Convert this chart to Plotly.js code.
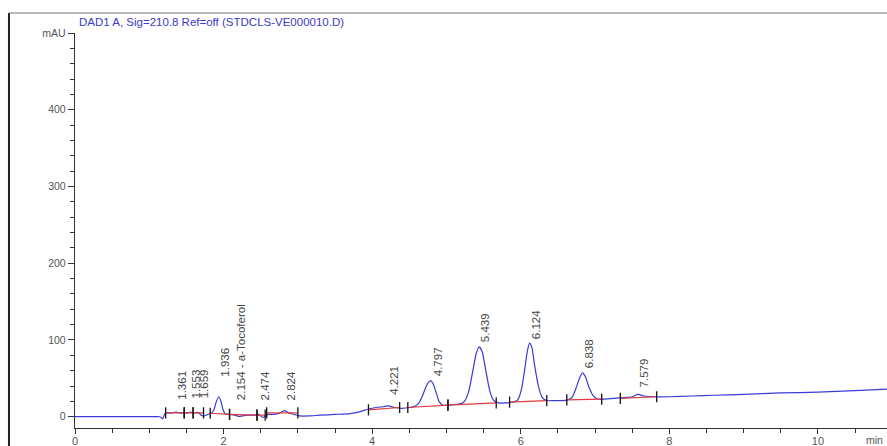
<!DOCTYPE html>
<html>
<head>
<meta charset="utf-8">
<script src="https://cdn.plot.ly/plotly-3.0.1.min.js"></script>
<style>html,body{margin:0;padding:0;background:#fff;}#chart{width:887px;height:446px;}</style>
</head>
<body>
<div id="chart"></div>
<script>
// ---- data (time in min, signal in mAU) ----
const times = [0,0.3,0.6,0.9,1.1,1.13,1.16,1.18,1.20,1.22,1.26,1.31,1.36,1.41,1.47,1.52,1.555,1.60,1.66,1.70,1.74,1.79,1.84,1.87,1.90,1.935,1.965,1.99,2.02,2.08,2.15,2.20,2.25,2.32,2.40,2.47,2.53,2.60,2.68,2.76,2.82,2.88,2.95,3.02,3.15,3.3,3.5,3.7,3.85,3.95,4.05,4.15,4.22,4.30,4.40,4.50,4.58,4.63,4.68,4.72,4.76,4.79,4.82,4.86,4.90,4.95,5.02,5.12,5.20,5.25,5.30,5.35,5.40,5.44,5.48,5.53,5.58,5.63,5.70,5.80,5.90,5.96,6.01,6.06,6.09,6.12,6.15,6.19,6.24,6.29,6.35,6.45,6.55,6.63,6.69,6.74,6.79,6.83,6.87,6.92,6.97,7.03,7.10,7.25,7.40,7.50,7.58,7.66,7.80,8.0,8.3,8.6,9.0,9.5,10.0,10.5,10.93];
const signal = [0,0,0,0,0,0,-1,-3,2,5,5,5,6,5,5,5,6,5,5.5,2,1,3,5,9,19,26,20,10,4,3,2,0.5,1,2,2,3,-1,3,3,5,8,5,3,1,1,2,3,4,7,10,12,13,14,12,11,12,14,18,28,38,45,47,43,32,20,15,15,16,17,21,33,57,82,91,85,60,35,22,18,18,19,22,36,66,86,96,90,65,39,25,21,21,21,22,25,36,50,57,52,38,28,23,23,24,25,26,29,27,26,26,27,28,29,31,32,34,36];

// integrated peaks: retention time labels, apex signal, baseline start/end
const peakLabels = ["1.361","1.553","1.659","1.936","2.154 - a-Tocoferol","2.474","2.824","4.221","4.797","5.439","6.124","6.838","7.579"];
const peakTimes  = [1.361,1.553,1.659,1.936,2.154,2.474,2.824,4.221,4.797,5.439,6.124,6.838,7.579];
const peakApex   = [6,6,5.5,26,2,3,8,14,47,91,96,57,29];
const blStartT = [1.22,1.47,1.59,1.82,2.08,2.45,2.58,3.95,4.48,5.02,5.85,6.62,7.34];
const blStartV = [5,5,5,4.5,3,2,5,9,12,15,19,22,24];
const blEndT   = [1.47,1.59,1.73,2.08,2.45,2.56,3.0,4.37,5.02,5.67,6.35,7.09,7.83];
const blEndV   = [5,5,5,3,2,2,5,12,15,18,21,23,26];

const xTickVals = [0,2,4,6,8,10];
const yTickVals = [0,100,200,300,400,500];
const yTickText = ["0","100","200","300","400","mAU"];
const titleText = "DAD1 A, Sig=210.8 Ref=off (STDCLS-VE000010.D)";

// ---- build traces ----
const blX = [], blY = [];
for (let i = 0; i < blStartT.length; i++) {
  blX.push(blStartT[i], blEndT[i], null);
  blY.push(blStartV[i], blEndV[i], null);
}
const tickX = blStartT.concat(blEndT);
const tickY = blStartV.concat(blEndV);

const traces = [
  {x: times, y: signal, type: 'scatter', mode: 'lines',
   line: {color: '#3b3bd6', width: 1.2, shape: 'spline', smoothing: 0.6}, hoverinfo: 'skip'},
  {x: blX, y: blY, type: 'scatter', mode: 'lines',
   line: {color: '#e23a3a', width: 1.2}, connectgaps: false, hoverinfo: 'skip'},
  {x: tickX, y: tickY, type: 'scatter', mode: 'markers',
   marker: {symbol: 'line-ns', size: 8, line: {color: '#111', width: 1.3}}, hoverinfo: 'skip'}
];

// peak label placement (layout only)
const liftOverride = {"1.936": 50, "4.221": 26, "7.579": 35, "1.553": 21, "1.659": 21};
const annotations = peakLabels.map((t, i) => {
  const key = String(peakTimes[i]);
  const yb = liftOverride[key] !== undefined ? liftOverride[key] : Math.max(peakApex[i] + 3, 19);
  return {x: peakTimes[i], y: yb, xref: 'x', yref: 'y', text: t, textangle: -90,
          xanchor: 'center', yanchor: 'bottom', xshift: 6, showarrow: false,
          font: {family: 'Liberation Sans, Arial, sans-serif', size: 11.5, color: '#454545'}};
});
annotations.push({x: (864 - 75) / 812, y: 0, xref: 'paper', yref: 'paper', yshift: -12, text: 'min',
  xanchor: 'left', yanchor: 'middle', showarrow: false,
  font: {family: 'Liberation Sans, Arial, sans-serif', size: 10.5, color: '#555'}});

const layout = {
  width: 887, height: 446,
  margin: {l: 75, r: 0, t: 33, b: 18},
  paper_bgcolor: '#fff', plot_bgcolor: '#fff',
  showlegend: false,
  title: {text: titleText, x: 79/887, xanchor: 'left', xref: 'container',
          y: 1 - 21.7/446, yanchor: 'middle', yref: 'container',
          font: {family: 'Liberation Sans, Arial, sans-serif', size: 11.5, color: '#3a3acc'}},
  xaxis: {range: [0, 10.93], tickvals: xTickVals, ticktext: xTickVals.map(String),
          showline: true, linecolor: '#333', linewidth: 1, ticks: 'outside', ticklen: 5,
          tickcolor: '#333', showgrid: false, zeroline: false, ticklabelstandoff: -2,
          minor: {dtick: 0.5, tick0: 0, ticks: 'outside', ticklen: 4, tickcolor: '#333', showgrid: false},
          tickfont: {family: 'Liberation Sans, Arial, sans-serif', size: 11, color: '#555'}},
  yaxis: {range: [-14.7, 500], tickvals: yTickVals, ticktext: yTickText,
          showline: true, linecolor: '#333', linewidth: 1.2, ticks: 'outside', ticklen: 6,
          tickcolor: '#333', showgrid: false, zeroline: false,
          minor: {dtick: 20, tick0: 0, ticks: 'outside', ticklen: 4, tickcolor: '#333', showgrid: false},
          tickfont: {family: 'Liberation Sans, Arial, sans-serif', size: 10.5, color: '#555'}},
  shapes: [
    {type: 'line', xref: 'paper', yref: 'paper', x0: -0.0813, x1: -0.0813, y0: -0.2, y1: 1.0506,
     line: {color: '#222', width: 2}},
    {type: 'line', xref: 'paper', yref: 'paper', x0: -0.0813, x1: 1.05, y0: 1.0506, y1: 1.0506,
     line: {color: '#777', width: 1.2}}
  ],
  annotations: annotations
};

Plotly.newPlot('chart', traces, layout, {staticPlot: true, displayModeBar: false});
</script>
</body>
</html>
